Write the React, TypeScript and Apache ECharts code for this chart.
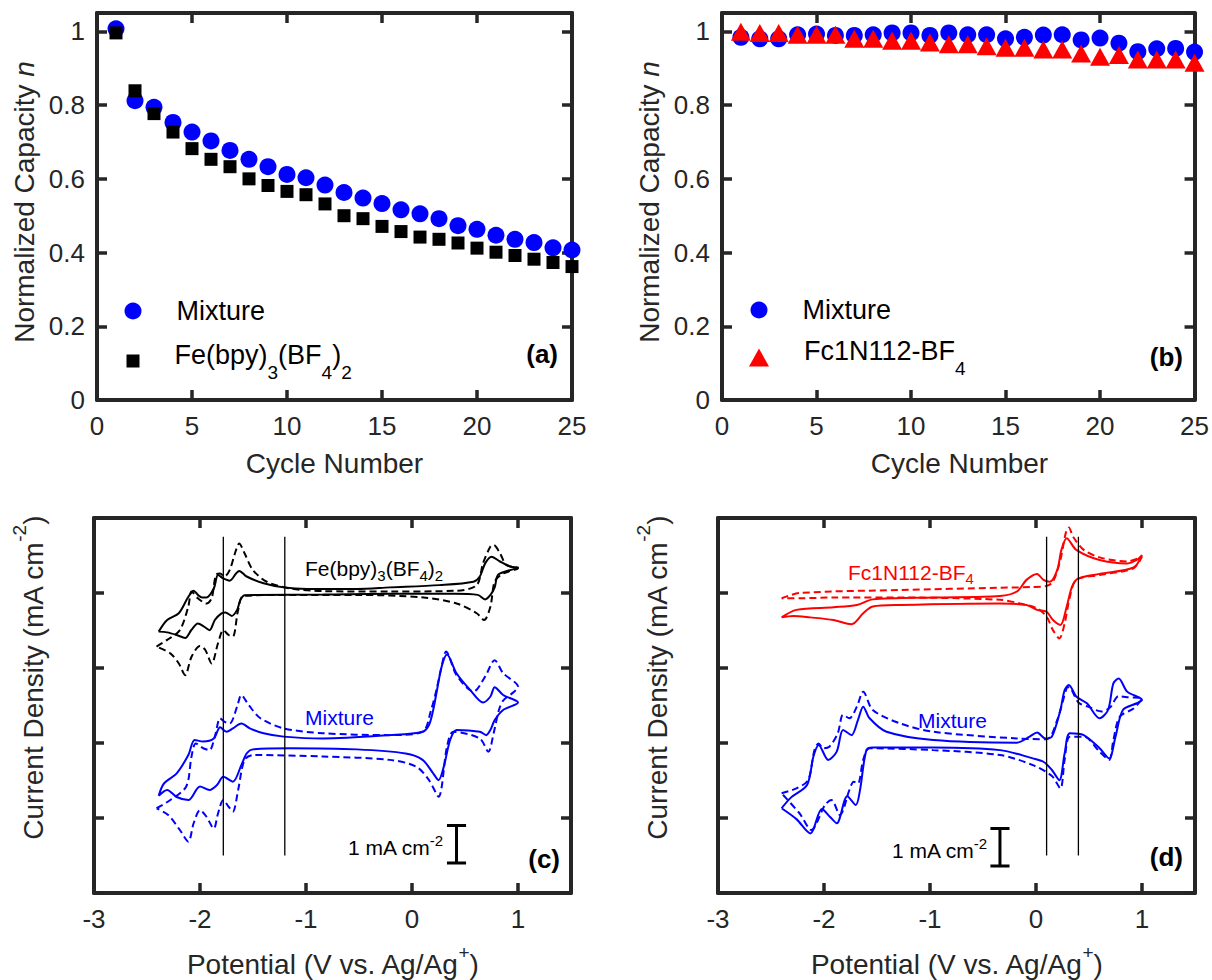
import { useEffect, useRef } from 'react';
import * as echarts from 'echarts';

const FONT = '"Liberation Sans", Arial, Helvetica, sans-serif';
const INK = '#262626';
const BLUE = '#0000ff';
const RED = '#ff0000';
const BLACK = '#000000';

// Capacity retention over 25 charge/discharge cycles
const cycles = [1, 2, 3, 4, 5, 6, 7, 8, 9, 10, 11, 12, 13, 14, 15, 16, 17, 18, 19, 20, 21, 22, 23, 24, 25];
const mixtureCapacityA = [1.007, 0.812, 0.794, 0.753, 0.727, 0.703, 0.677, 0.653, 0.633, 0.612, 0.603, 0.583, 0.563, 0.548, 0.533, 0.516, 0.505, 0.492, 0.473, 0.463, 0.447, 0.436, 0.427, 0.413, 0.407];
const feBpyCapacity = [0.996, 0.839, 0.777, 0.727, 0.682, 0.653, 0.633, 0.6, 0.582, 0.566, 0.557, 0.532, 0.5, 0.492, 0.471, 0.457, 0.442, 0.436, 0.426, 0.412, 0.401, 0.392, 0.382, 0.373, 0.362];
const mixtureCapacityB = [0.984, 0.98, 0.98, 0.991, 0.993, 0.989, 0.989, 0.991, 0.996, 0.996, 0.989, 0.996, 0.991, 0.991, 0.98, 0.984, 0.99, 0.991, 0.977, 0.982, 0.968, 0.945, 0.953, 0.954, 0.944];
const fcCapacity = [0.999, 0.996, 0.996, 0.991, 0.991, 0.991, 0.98, 0.98, 0.975, 0.975, 0.97, 0.965, 0.965, 0.96, 0.956, 0.956, 0.951, 0.951, 0.94, 0.931, 0.936, 0.924, 0.924, 0.924, 0.915];

const cycleRange = { min: 0, max: 25, interval: 5 };
const capacityRange = { min: 0, max: 1.05, interval: 0.2 };
const potentialRange = { min: -3, max: 1.5, interval: 1 };
const currentRange = { min: 0, max: 10, interval: 2 };

// Cyclic voltammograms: [potential (V vs. Ag/Ag+), current density (mA cm-2, stacked offset)]
const cvFeSolid = [
  [-2.39, 6.97], [-2.31, 7.28], [-2.2, 7.46], [-2.11, 7.9], [-2.06, 8.06], [-2.02, 7.95], [-1.98, 7.88], [-1.94, 7.88],
  [-1.87, 8.12], [-1.83, 8.48], [-1.78, 8.39], [-1.72, 8.33], [-1.66, 8.52], [-1.63, 8.59], [-1.56, 8.44], [-1.4, 8.26],
  [-1.21, 8.15], [-0.99, 8.11], [-0.52, 8.11], [-0.21, 8.15], [0.26, 8.21], [0.58, 8.3], [0.64, 8.44], [0.69, 8.79],
  [0.75, 8.97], [0.83, 8.84], [0.93, 8.7], [1.0, 8.68],
  [0.89, 8.58], [0.81, 8.48], [0.78, 8.15], [0.74, 7.95], [0.69, 7.83], [0.62, 7.95], [0.4, 7.98], [-0.21, 7.98],
  [-0.84, 7.96], [-1.47, 7.95], [-1.58, 7.94], [-1.62, 7.81], [-1.65, 7.55], [-1.7, 7.39], [-1.76, 7.48], [-1.8, 7.45],
  [-1.86, 7.28], [-1.91, 7.01], [-1.96, 7.1], [-2.02, 7.19], [-2.08, 7.02], [-2.14, 6.8], [-2.22, 6.88], [-2.31, 6.95],
  [-2.39, 6.97],
];
const cvFeDashed = [
  [-2.41, 6.57], [-2.31, 6.75], [-2.19, 7.01], [-2.11, 7.64], [-2.08, 8.04], [-2.02, 7.86], [-1.94, 7.72], [-1.89, 7.86],
  [-1.85, 8.48], [-1.81, 8.52], [-1.77, 8.44], [-1.72, 8.61], [-1.67, 9.06], [-1.63, 9.32], [-1.58, 9.06], [-1.5, 8.61],
  [-1.37, 8.3], [-1.15, 8.12], [-0.84, 8.05], [-0.21, 8.04], [0.42, 8.06], [0.61, 8.21], [0.67, 8.79], [0.74, 9.24],
  [0.77, 9.28], [0.83, 9.06], [0.89, 8.75], [1.0, 8.66],
  [0.86, 8.52], [0.78, 8.3], [0.74, 7.64], [0.68, 7.28], [0.61, 7.46], [0.42, 7.72], [0.11, 7.88], [-0.52, 7.95],
  [-1.15, 7.95], [-1.59, 7.92], [-1.64, 7.55], [-1.69, 6.84], [-1.73, 6.88], [-1.78, 7.01], [-1.83, 6.66], [-1.89, 6.12],
  [-1.95, 6.48], [-2.0, 6.59], [-2.08, 6.3], [-2.14, 5.81], [-2.2, 6.12], [-2.28, 6.39], [-2.41, 6.57],
];
const cvMixCSolid = [
  [-2.39, 2.59], [-2.34, 2.92], [-2.22, 3.19], [-2.11, 3.68], [-2.05, 4.08], [-1.97, 4.04], [-1.87, 4.12], [-1.81, 4.42],
  [-1.75, 4.3], [-1.69, 4.39], [-1.61, 4.52], [-1.53, 4.39], [-1.4, 4.26], [-1.21, 4.17], [-0.84, 4.12], [-0.21, 4.21],
  [0.1, 4.3], [0.16, 4.48], [0.2, 4.88], [0.23, 5.32], [0.28, 6.04], [0.33, 6.36], [0.42, 5.86], [0.55, 5.41],
  [0.67, 5.08], [0.74, 5.24], [0.78, 5.49], [0.86, 5.28], [1.0, 5.08],
  [0.86, 4.88], [0.78, 4.61], [0.74, 4.35], [0.7, 4.21], [0.64, 4.3], [0.42, 4.35], [0.36, 4.08], [0.3, 3.37],
  [0.25, 3.01], [0.2, 3.19], [0.1, 3.55], [-0.06, 3.72], [-0.52, 3.83], [-1.15, 3.86], [-1.5, 3.83], [-1.56, 3.72],
  [-1.61, 3.41], [-1.69, 2.97], [-1.78, 3.1], [-1.84, 2.88], [-1.91, 2.75], [-2.0, 2.84], [-2.11, 2.48], [-2.22, 2.56],
  [-2.31, 2.75], [-2.39, 2.59],
];
const cvMixCDashed = [
  [-2.41, 2.26], [-2.28, 2.48], [-2.13, 2.84], [-2.08, 3.64], [-2.04, 3.99], [-1.97, 3.86], [-1.91, 3.81], [-1.86, 4.17],
  [-1.81, 4.66], [-1.77, 4.57], [-1.72, 4.52], [-1.65, 4.97], [-1.61, 5.28], [-1.54, 5.01], [-1.43, 4.66], [-1.21, 4.39],
  [-0.84, 4.26], [-0.21, 4.21], [0.1, 4.3], [0.18, 4.88], [0.23, 5.41], [0.3, 6.3], [0.32, 6.44], [0.42, 5.81],
  [0.58, 5.37], [0.69, 5.77], [0.78, 6.21], [0.86, 5.86], [1.0, 5.5],
  [0.96, 5.36], [0.86, 5.13], [0.82, 4.88], [0.77, 4.26], [0.72, 3.77], [0.64, 4.12], [0.39, 4.3], [0.33, 3.9],
  [0.25, 2.57], [0.16, 3.01], [0.04, 3.37], [-0.21, 3.55], [-0.84, 3.64], [-1.5, 3.68], [-1.58, 3.55], [-1.64, 2.75],
  [-1.69, 2.17], [-1.73, 2.3], [-1.78, 2.48], [-1.83, 2.12], [-1.87, 1.72], [-1.94, 2.04], [-2.0, 2.21], [-2.06, 1.86],
  [-2.11, 1.37], [-2.19, 1.68], [-2.3, 2.08], [-2.41, 2.26],
];
const cvFcSolid = [
  [-2.4, 7.35], [-2.26, 7.55], [-1.91, 7.62], [-1.69, 7.68], [-1.54, 7.83], [-0.97, 7.88], [-0.34, 7.92], [-0.18, 8.04],
  [-0.09, 8.35], [0.01, 8.51], [0.07, 8.35], [0.13, 8.3], [0.2, 8.61], [0.24, 9.15], [0.29, 9.46], [0.38, 9.15],
  [0.6, 8.88], [0.86, 8.79], [0.95, 8.88], [1.0, 9.01],
  [0.92, 8.68], [0.6, 8.51], [0.4, 8.39], [0.34, 8.17], [0.29, 7.64], [0.23, 7.15], [0.16, 7.28], [0.1, 7.5],
  [0.01, 7.55], [-0.09, 7.68], [-0.34, 7.72], [-1.28, 7.68], [-1.54, 7.64], [-1.63, 7.46], [-1.74, 7.17], [-1.91, 7.28],
  [-2.13, 7.35], [-2.29, 7.39], [-2.4, 7.35],
];
const cvFcDashed = [
  [-2.4, 7.86], [-2.23, 8.0], [-1.28, 8.08], [-0.34, 8.14], [-0.03, 8.16], [0.1, 8.19], [0.16, 8.3], [0.23, 8.88],
  [0.28, 9.59], [0.31, 9.75], [0.35, 9.5], [0.45, 9.15], [0.6, 8.95], [0.86, 8.84], [1.0, 8.97],
  [0.92, 8.66], [0.6, 8.48], [0.38, 8.35], [0.32, 7.9], [0.27, 7.19], [0.22, 6.79], [0.16, 7.01], [0.1, 7.37],
  [0.01, 7.59], [-0.15, 7.72], [-0.34, 7.82], [-1.28, 7.88], [-1.91, 7.88], [-2.23, 7.86], [-2.4, 7.86],
];
const cvMixDSolid = [
  [-2.4, 2.26], [-2.31, 2.55], [-2.16, 2.88], [-2.1, 3.64], [-2.05, 3.95], [-1.96, 3.55], [-1.88, 3.77], [-1.82, 4.35],
  [-1.74, 4.21], [-1.68, 4.61], [-1.63, 4.97], [-1.57, 4.66], [-1.41, 4.3], [-0.97, 4.08], [-0.18, 4.01], [-0.06, 4.17],
  [0.01, 4.28], [0.09, 4.12], [0.15, 4.17], [0.23, 4.88], [0.27, 5.41], [0.31, 5.55], [0.38, 5.24], [0.48, 5.06],
  [0.6, 4.66], [0.68, 4.88], [0.73, 5.59], [0.78, 5.72], [0.86, 5.37], [1.0, 5.15],
  [0.95, 5.06], [0.82, 4.88], [0.75, 4.17], [0.69, 3.59], [0.6, 3.86], [0.45, 4.21], [0.32, 4.26], [0.27, 3.72],
  [0.22, 3.01], [0.15, 3.28], [0.07, 3.5], [-0.03, 3.59], [-0.34, 3.81], [-0.97, 3.88], [-1.54, 3.88], [-1.6, 3.81],
  [-1.66, 2.75], [-1.7, 2.35], [-1.78, 2.58], [-1.88, 1.86], [-1.94, 2.02], [-2.02, 2.24], [-2.13, 1.59], [-2.26, 1.97],
  [-2.4, 2.26],
];
const cvMixDDashed = [
  [-2.4, 2.66], [-2.26, 2.79], [-2.15, 3.01], [-2.09, 3.81], [-2.05, 3.99], [-2.01, 3.86], [-1.95, 3.9], [-1.87, 4.26],
  [-1.82, 4.75], [-1.76, 4.66], [-1.69, 4.97], [-1.63, 5.37], [-1.54, 4.88], [-1.28, 4.52], [-0.97, 4.3], [-0.18, 4.12],
  [0.1, 4.1], [0.2, 4.61], [0.29, 5.47], [0.31, 5.49], [0.4, 5.08], [0.49, 4.97], [0.62, 4.84], [0.7, 4.95],
  [0.78, 5.25], [0.86, 5.22], [1.0, 5.19],
  [0.92, 4.92], [0.79, 4.7], [0.73, 4.08], [0.69, 3.55], [0.6, 3.77], [0.45, 4.17], [0.32, 4.17], [0.27, 3.55],
  [0.23, 2.79], [0.15, 3.12], [-0.03, 3.41], [-0.34, 3.68], [-0.97, 3.81], [-1.57, 3.86], [-1.63, 3.55], [-1.68, 2.92],
  [-1.72, 2.97], [-1.76, 2.75], [-1.85, 2.08], [-1.93, 2.48], [-1.99, 2.35], [-2.12, 1.68], [-2.23, 2.12], [-2.4, 2.66],
];

// Reference potentials and 1 mA cm-2 scale bars
const guidePotentialsC = [-1.78, -1.2];
const guidePotentialsD = [0.1, 0.4];
const guideSpan = [1.0, 9.5];
const scaleBarC = [0.42, 0.8, 1.8];
const scaleBarD = [-0.34, 0.72, 1.72];
const CAP_HALF = 0.09;

const grids = [
  { left: 97, top: 13, width: 475, height: 387 },
  { left: 722, top: 13, width: 475, height: 387 },
  { left: 94, top: 518, width: 477, height: 375 },
  { left: 718, top: 518, width: 477, height: 375 },
];

const axisLine = { show: true, onZero: false, lineStyle: { color: INK, width: 4 } };
const axisTick = { show: true, inside: true, length: 10, lineStyle: { color: INK, width: 3.5 } };

const fmt = (hide: number | null) => (v: number) =>
  hide !== null && Math.abs(v - hide) < 1e-6 ? '' : String(Number(v.toFixed(2)));

function xAxes(gridIndex: number, range: any, labels: boolean, hide: number | null) {
  const base = { type: 'value', gridIndex, ...range, splitLine: { show: false }, axisLine, axisTick };
  return [
    {
      ...base,
      position: 'bottom',
      axisLabel: { show: labels, color: INK, fontSize: 26, fontFamily: FONT, margin: 13, formatter: fmt(hide) },
    },
    { ...base, position: 'top', axisLabel: { show: false } },
  ];
}
function yAxes(gridIndex: number, range: any, labels: boolean, hide: number | null) {
  const base = { type: 'value', gridIndex, ...range, splitLine: { show: false }, axisLine, axisTick };
  return [
    {
      ...base,
      position: 'left',
      axisLabel: { show: labels, color: INK, fontSize: 26, fontFamily: FONT, margin: 12, formatter: fmt(hide) },
    },
    { ...base, position: 'right', axisLabel: { show: false } },
  ];
}

function cv(data: number[][], color: string, dashed: boolean, g: number) {
  return {
    type: 'line',
    xAxisIndex: 2 * g,
    yAxisIndex: 2 * g,
    data,
    symbol: 'none',
    showSymbol: false,
    smooth: 0.3,
    silent: true,
    lineStyle: { color, width: 2, type: dashed ? [7, 4] : 'solid' },
    z: 3,
  };
}
function seg(points: number[][], g: number, width: number) {
  return {
    type: 'line',
    xAxisIndex: 2 * g,
    yAxisIndex: 2 * g,
    data: points,
    symbol: 'none',
    showSymbol: false,
    silent: true,
    lineStyle: { color: BLACK, width },
    z: 4,
  };
}
function scaleBar(bar: number[], g: number) {
  const [x, lo, hi] = bar;
  return [
    seg([[x, lo], [x, hi]], g, 3),
    seg([[x - CAP_HALF, lo], [x + CAP_HALF, lo]], g, 3),
    seg([[x - CAP_HALF, hi], [x + CAP_HALF, hi]], g, 3),
  ];
}

function text(x: number, y: number, str: string, rich: any, opts: any = {}) {
  const align = opts.align || 'left';
  const vAlign = opts.vAlign || 'middle';
  return {
    type: 'text',
    x,
    y,
    rotation: opts.rotation || 0,
    silent: true,
    style: {
      text: str,
      rich,
      align,
      textAlign: align,
      verticalAlign: vAlign,
      textVerticalAlign: vAlign,
      fill: opts.fill || INK,
      fontSize: opts.fontSize || 28,
      fontFamily: FONT,
      fontWeight: opts.fontWeight || 'normal',
    },
  };
}

const tok = (fontSize: number, fill: string, extra: any = {}) => ({
  fontSize,
  lineHeight: fontSize,
  fontFamily: FONT,
  fill,
  color: fill,
  verticalAlign: 'middle',
  ...extra,
});

function buildOption() {
  const yTitleRich = { t: tok(28, INK), i: tok(28, INK, { fontStyle: 'italic' }) };
  const currentRich = { t: tok(28, INK), p: tok(19, INK, { padding: [0, 0, 28, 0] }) };
  const potentialRich = { t: tok(28, INK), p: tok(19, INK, { padding: [0, 0, 24, 0] }) };
  const feLabelRich = { t: tok(21, BLACK), s: tok(15, BLACK, { padding: [14, 0, 0, 0] }) };
  const fcLabelRich = { t: tok(21, RED), s: tok(15, RED, { padding: [12, 0, 0, 0] }) };
  const scaleRich = { t: tok(21, BLACK), p: tok(15, BLACK, { padding: [0, 0, 14, 0] }) };

  const graphic = [
    text(24, 202, '{t|Normalized Capacity }{i|n}', yTitleRich, { align: 'center', rotation: Math.PI / 2 }),
    text(649, 202, '{t|Normalized Capacity }{i|n}', yTitleRich, { align: 'center', rotation: Math.PI / 2 }),
    text(33, 678, '{t|Current Density (mA cm}{p|-2}{t|)}', currentRich, { align: 'center', rotation: Math.PI / 2 }),
    text(657, 678, '{t|Current Density (mA cm}{p|-2}{t|)}', currentRich, { align: 'center', rotation: Math.PI / 2 }),
    text(334.5, 463, '{t|Cycle Number}', yTitleRich, { align: 'center' }),
    text(959.5, 463, '{t|Cycle Number}', yTitleRich, { align: 'center' }),
    text(332.5, 964, '{t|Potential (V vs. Ag/Ag}{p|+}{t|)}', potentialRich, { align: 'center' }),
    text(956.5, 964, '{t|Potential (V vs. Ag/Ag}{p|+}{t|)}', potentialRich, { align: 'center' }),
    text(558, 354, '(a)', null, { align: 'right', fontWeight: 'bold', fontSize: 26, fill: BLACK }),
    text(1183, 357, '(b)', null, { align: 'right', fontWeight: 'bold', fontSize: 26, fill: BLACK }),
    text(560, 859, '(c)', null, { align: 'right', fontWeight: 'bold', fontSize: 26, fill: BLACK }),
    text(1183, 857, '(d)', null, { align: 'right', fontWeight: 'bold', fontSize: 26, fill: BLACK }),
    text(305, 568, '{t|Fe(bpy)}{s|3}{t|(BF}{s|4}{t|)}{s|2}', feLabelRich),
    text(305, 717, 'Mixture', null, { fontSize: 21, fill: BLUE }),
    text(848, 572, '{t|Fc1N112-BF}{s|4}', fcLabelRich),
    text(918, 720, 'Mixture', null, { fontSize: 21, fill: BLUE }),
    text(443, 847, '{t|1 mA cm}{p|-2}', scaleRich, { align: 'right' }),
    text(987, 850, '{t|1 mA cm}{p|-2}', scaleRich, { align: 'right' }),
  ];

  const legendBase = {
    selectedMode: false,
    padding: 0,
    orient: 'vertical',
    textStyle: {
      rich: {
        g: { fontSize: 27, lineHeight: 27, fontFamily: FONT, color: BLACK, verticalAlign: 'middle', padding: [0, 0, 0, 30] },
        f: { fontSize: 27, lineHeight: 27, fontFamily: FONT, color: BLACK, verticalAlign: 'middle', padding: [0, 0, 13, 30] },
        t: { fontSize: 27, lineHeight: 27, fontFamily: FONT, color: BLACK, verticalAlign: 'middle', padding: [0, 0, 13, 0] },
        s: { fontSize: 19, lineHeight: 19, fontFamily: FONT, color: BLACK, verticalAlign: 'middle', padding: [22, 0, 0, 0] },
      },
    },
  };
  const legend = [
    { ...legendBase, left: 124.5, top: 297.5, itemWidth: 17, itemHeight: 17, data: [{ name: 'Mixture', icon: 'circle' }], formatter: () => '{g|Mixture}' },
    { ...legendBase, left: 126.5, top: 340.5, itemWidth: 13, itemHeight: 13, data: [{ name: 'Fe(bpy)3(BF4)2', icon: 'rect' }], formatter: () => '{f|Fe(bpy)}{s|3}{t|(BF}{s|4}{t|)}{s|2}' },
    { ...legendBase, left: 750.5, top: 296.5, itemWidth: 17, itemHeight: 17, data: [{ name: 'Mixture', icon: 'circle' }], formatter: () => '{g|Mixture}' },
    { ...legendBase, left: 749, top: 337, itemWidth: 20, itemHeight: 18, data: [{ name: 'Fc1N112-BF4', icon: 'triangle' }], formatter: () => '{f|Fc1N112-BF}{s|4}' },
  ];

  const scatter = (name: string, values: number[], g: number, symbol: string, size: any, color: string) => ({
    name,
    type: 'scatter',
    xAxisIndex: 2 * g,
    yAxisIndex: 2 * g,
    data: cycles.map((c, i) => [c, values[i]]),
    symbol,
    symbolSize: size,
    itemStyle: { color, opacity: 1 },
    silent: true,
    z: 3,
  });

  const series: any[] = [
    scatter('Mixture', mixtureCapacityA, 0, 'circle', 17, BLUE),
    scatter('Fe(bpy)3(BF4)2', feBpyCapacity, 0, 'rect', 13, BLACK),
    scatter('Mixture', mixtureCapacityB, 1, 'circle', 17, BLUE),
    scatter('Fc1N112-BF4', fcCapacity, 1, 'triangle', [20, 18], RED),
    cv(cvFeSolid, BLACK, false, 2),
    cv(cvFeDashed, BLACK, true, 2),
    cv(cvMixCSolid, BLUE, false, 2),
    cv(cvMixCDashed, BLUE, true, 2),
    cv(cvFcSolid, RED, false, 3),
    cv(cvFcDashed, RED, true, 3),
    cv(cvMixDSolid, BLUE, false, 3),
    cv(cvMixDDashed, BLUE, true, 3),
    ...guidePotentialsC.map((v) => seg([[v, guideSpan[0]], [v, guideSpan[1]]], 2, 1.3)),
    ...guidePotentialsD.map((v) => seg([[v, guideSpan[0]], [v, guideSpan[1]]], 3, 1.3)),
    ...scaleBar(scaleBarC, 2),
    ...scaleBar(scaleBarD, 3),
  ];

  return {
    animation: false,
    backgroundColor: '#ffffff',
    textStyle: { fontFamily: FONT },
    grid: grids,
    xAxis: [
      ...xAxes(0, cycleRange, true, null),
      ...xAxes(1, cycleRange, true, null),
      ...xAxes(2, potentialRange, true, 1.5),
      ...xAxes(3, potentialRange, true, 1.5),
    ],
    yAxis: [
      ...yAxes(0, capacityRange, true, 1.05),
      ...yAxes(1, capacityRange, true, 1.05),
      ...yAxes(2, currentRange, false, null),
      ...yAxes(3, currentRange, false, null),
    ],
    legend,
    graphic,
    series,
  };
}

export default function App() {
  const ref = useRef<HTMLDivElement>(null);
  useEffect(() => {
    const chart = echarts.init(ref.current as HTMLDivElement, null, { renderer: 'svg' });
    chart.setOption(buildOption() as any);
    return () => chart.dispose();
  }, []);
  return (
    <div
      ref={ref}
      style={{ position: 'fixed', left: 0, top: 0, width: 1212, height: 980, background: '#ffffff' }}
    />
  );
}
